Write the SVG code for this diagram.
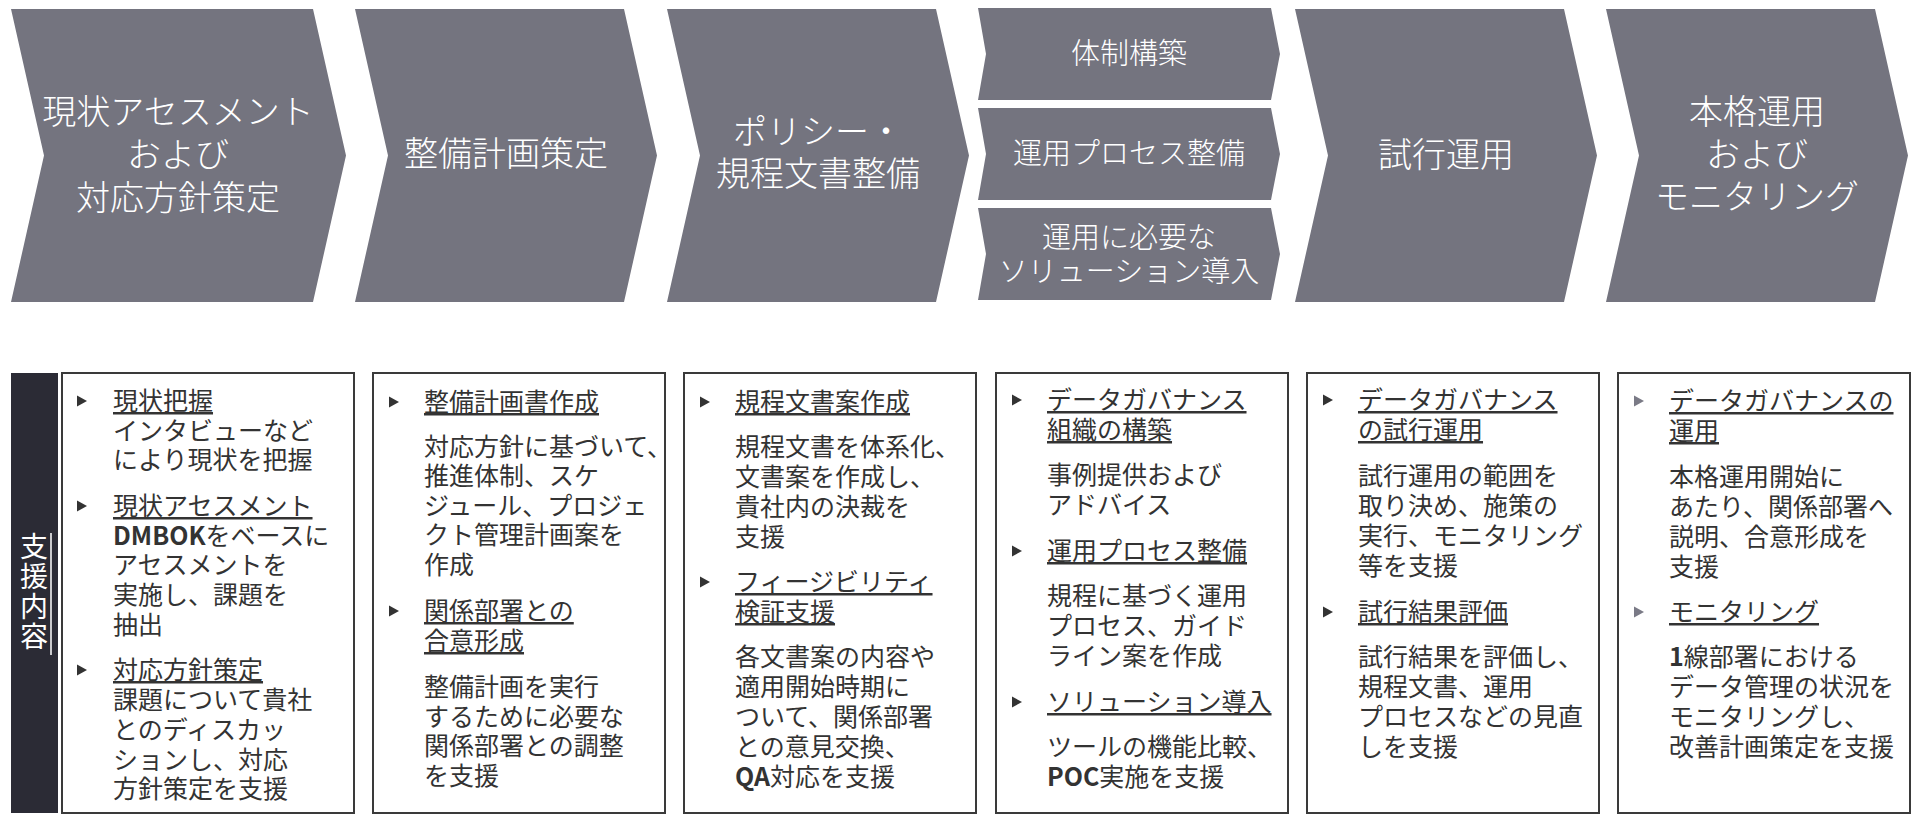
<svg xmlns="http://www.w3.org/2000/svg" xmlns:xlink="http://www.w3.org/1999/xlink" width="1920" height="833" viewBox="0 0 1920 833">
<style>
.chev{fill:#74747f}
.ct{fill:#ffffff;font-family:"Noto Sans CJK JP","Noto Sans",sans-serif;font-size:34px;font-weight:300;text-anchor:middle}
.st{font-size:29px}
.box{fill:#ffffff;stroke:#3a3a3a;stroke-width:2}
.bt{fill:#333333;font-family:"Noto Sans CJK JP","Noto Sans",sans-serif;font-size:25px}
.h{text-decoration:underline}
.b{font-weight:bold}
.bul{fill:#333333}
.bul2{fill:#7a7a86}
.vl{fill:#ffffff;font-family:"Noto Sans CJK JP","Noto Sans",sans-serif;font-size:28px;text-anchor:middle}
</style>
<defs>
<polygon id="tri" points="0,-5.5 10,0 0,5.5"/>
</defs>
<rect width="1920" height="833" fill="#ffffff"/>

<g id="connectors"></g>

<g id="step1">
<polygon class="chev" points="11,9 313,9 346,155.5 313,302 11,302 44,155.5"/>
<text class="ct"><tspan x="178" y="124">現状アセスメント</tspan><tspan x="178" y="167">および</tspan><tspan x="178" y="210">対応方針策定</tspan></text>
</g>
<g id="step2">
<polygon class="chev" points="355,9 624,9 657,155.5 624,302 355,302 388,155.5"/>
<text class="ct" x="506" y="166">整備計画策定</text>
</g>
<g id="step3">
<polygon class="chev" points="667,9 936,9 969,155.5 936,302 667,302 700,155.5"/>
<text class="ct"><tspan x="818" y="144">ポリシー・</tspan><tspan x="818" y="186">規程文書整備</tspan></text>
</g>
<g id="step4a">
<polygon class="chev" points="978,8 1271,8 1280,54 1271,100 978,100 986,54"/>
<text class="ct st" x="1129" y="64">体制構築</text>
</g>
<g id="step4b">
<polygon class="chev" points="978,108 1271,108 1280,154 1271,200 978,200 986,154"/>
<text class="ct st" x="1129" y="164">運用プロセス整備</text>
</g>
<g id="step4c">
<polygon class="chev" points="978,208 1271,208 1280,254 1271,300 978,300 986,254"/>
<text class="ct st"><tspan x="1129" y="248">運用に必要な</tspan><tspan x="1129" y="282">ソリューション導入</tspan></text>
</g>
<g id="step5">
<polygon class="chev" points="1295,9 1564,9 1597,155.5 1564,302 1295,302 1328,155.5"/>
<text class="ct" x="1446" y="167">試行運用</text>
</g>
<g id="step6">
<polygon class="chev" points="1606,9 1875,9 1908,155.5 1875,302 1606,302 1639,155.5"/>
<text class="ct"><tspan x="1757" y="124">本格運用</tspan><tspan x="1757" y="167">および</tspan><tspan x="1757" y="209">モニタリング</tspan></text>
</g>

<g id="label">
<rect x="11" y="373" width="47" height="440" fill="#2b2b35"/>
<text class="vl"><tspan x="34" y="557">支</tspan><tspan x="34" y="587">援</tspan><tspan x="34" y="617">内</tspan><tspan x="34" y="647">容</tspan></text>
<line x1="51" y1="533" x2="51" y2="655" stroke="#ffffff" stroke-width="1.5"/>
</g>

<g id="box1">
<rect class="box" x="62" y="373" width="292" height="440"/>
<use xlink:href="#tri" class="bul" x="77" y="401"/>
<use xlink:href="#tri" class="bul" x="77" y="506"/>
<use xlink:href="#tri" class="bul" x="77" y="670"/>
<text class="bt">
<tspan class="h" x="113" y="410">現状把握</tspan>
<tspan x="113" y="440">インタビューなど</tspan>
<tspan x="113" y="469">により現状を把握</tspan>
<tspan class="h" x="113" y="515">現状アセスメント</tspan>
<tspan x="113" y="545"><tspan class="b">DMBOK</tspan>をベースに</tspan>
<tspan x="113" y="574">アセスメントを</tspan>
<tspan x="113" y="604">実施し、課題を</tspan>
<tspan x="113" y="634">抽出</tspan>
<tspan class="h" x="113" y="679">対応方針策定</tspan>
<tspan x="113" y="709">課題について貴社</tspan>
<tspan x="113" y="739">とのディスカッ</tspan>
<tspan x="113" y="769">ションし、対応</tspan>
<tspan x="113" y="798">方針策定を支援</tspan>
</text>
</g>

<g id="box2">
<rect class="box" x="373" y="373" width="292" height="440"/>
<use xlink:href="#tri" class="bul" x="389" y="402"/>
<use xlink:href="#tri" class="bul" x="389" y="611"/>
<text class="bt">
<tspan class="h" x="424" y="411">整備計画書作成</tspan>
<tspan x="424" y="456">対応方針に基づいて、</tspan>
<tspan x="424" y="485">推進体制、スケ</tspan>
<tspan x="424" y="515">ジュール、プロジェ</tspan>
<tspan x="424" y="544">クト管理計画案を</tspan>
<tspan x="424" y="574">作成</tspan>
<tspan class="h" x="424" y="620">関係部署との</tspan>
<tspan class="h" x="424" y="650">合意形成</tspan>
<tspan x="424" y="696">整備計画を実行</tspan>
<tspan x="424" y="726">するために必要な</tspan>
<tspan x="424" y="755">関係部署との調整</tspan>
<tspan x="424" y="785">を支援</tspan>
</text>
</g>

<g id="box3">
<rect class="box" x="684" y="373" width="292" height="440"/>
<use xlink:href="#tri" class="bul" x="700" y="402"/>
<use xlink:href="#tri" class="bul" x="700" y="582"/>
<text class="bt">
<tspan class="h" x="735" y="411">規程文書案作成</tspan>
<tspan x="735" y="456">規程文書を体系化、</tspan>
<tspan x="735" y="486">文書案を作成し、</tspan>
<tspan x="735" y="516">貴社内の決裁を</tspan>
<tspan x="735" y="546">支援</tspan>
<tspan class="h" x="735" y="591">フィージビリティ</tspan>
<tspan class="h" x="735" y="621">検証支援</tspan>
<tspan x="735" y="666">各文書案の内容や</tspan>
<tspan x="735" y="696">適用開始時期に</tspan>
<tspan x="735" y="726">ついて、関係部署</tspan>
<tspan x="735" y="756">との意見交換、</tspan>
<tspan x="735" y="786"><tspan class="b">QA</tspan>対応を支援</tspan>
</text>
</g>

<g id="box4">
<rect class="box" x="996" y="373" width="292" height="440"/>
<use xlink:href="#tri" class="bul" x="1012" y="400"/>
<use xlink:href="#tri" class="bul" x="1012" y="551"/>
<use xlink:href="#tri" class="bul" x="1012" y="702"/>
<text class="bt">
<tspan class="h" x="1047" y="409">データガバナンス</tspan>
<tspan class="h" x="1047" y="439">組織の構築</tspan>
<tspan x="1047" y="484">事例提供および</tspan>
<tspan x="1047" y="514">アドバイス</tspan>
<tspan class="h" x="1047" y="560">運用プロセス整備</tspan>
<tspan x="1047" y="605">規程に基づく運用</tspan>
<tspan x="1047" y="635">プロセス、ガイド</tspan>
<tspan x="1047" y="665">ライン案を作成</tspan>
<tspan class="h" x="1047" y="711">ソリューション導入</tspan>
<tspan x="1047" y="756">ツールの機能比較、</tspan>
<tspan x="1047" y="786"><tspan class="b">POC</tspan>実施を支援</tspan>
</text>
</g>

<g id="box5">
<rect class="box" x="1307" y="373" width="292" height="440"/>
<use xlink:href="#tri" class="bul" x="1323" y="400"/>
<use xlink:href="#tri" class="bul" x="1323" y="612"/>
<text class="bt">
<tspan class="h" x="1358" y="409">データガバナンス</tspan>
<tspan class="h" x="1358" y="439">の試行運用</tspan>
<tspan x="1358" y="485">試行運用の範囲を</tspan>
<tspan x="1358" y="515">取り決め、施策の</tspan>
<tspan x="1358" y="545">実行、モニタリング</tspan>
<tspan x="1358" y="575">等を支援</tspan>
<tspan class="h" x="1358" y="621">試行結果評価</tspan>
<tspan x="1358" y="666">試行結果を評価し、</tspan>
<tspan x="1358" y="696">規程文書、運用</tspan>
<tspan x="1358" y="726">プロセスなどの見直</tspan>
<tspan x="1358" y="756">しを支援</tspan>
</text>
</g>

<g id="box6">
<rect class="box" x="1618" y="373" width="292" height="440"/>
<use xlink:href="#tri" class="bul2" x="1634" y="401"/>
<use xlink:href="#tri" class="bul2" x="1634" y="612"/>
<text class="bt">
<tspan class="h" x="1669" y="410">データガバナンスの</tspan>
<tspan class="h" x="1669" y="440">運用</tspan>
<tspan x="1669" y="486">本格運用開始に</tspan>
<tspan x="1669" y="516">あたり、関係部署へ</tspan>
<tspan x="1669" y="546">説明、合意形成を</tspan>
<tspan x="1669" y="576">支援</tspan>
<tspan class="h" x="1669" y="621">モニタリング</tspan>
<tspan x="1669" y="666"><tspan class="b">1</tspan>線部署における</tspan>
<tspan x="1669" y="696">データ管理の状況を</tspan>
<tspan x="1669" y="726">モニタリングし、</tspan>
<tspan x="1669" y="756">改善計画策定を支援</tspan>
</text>
</g>
</svg>
